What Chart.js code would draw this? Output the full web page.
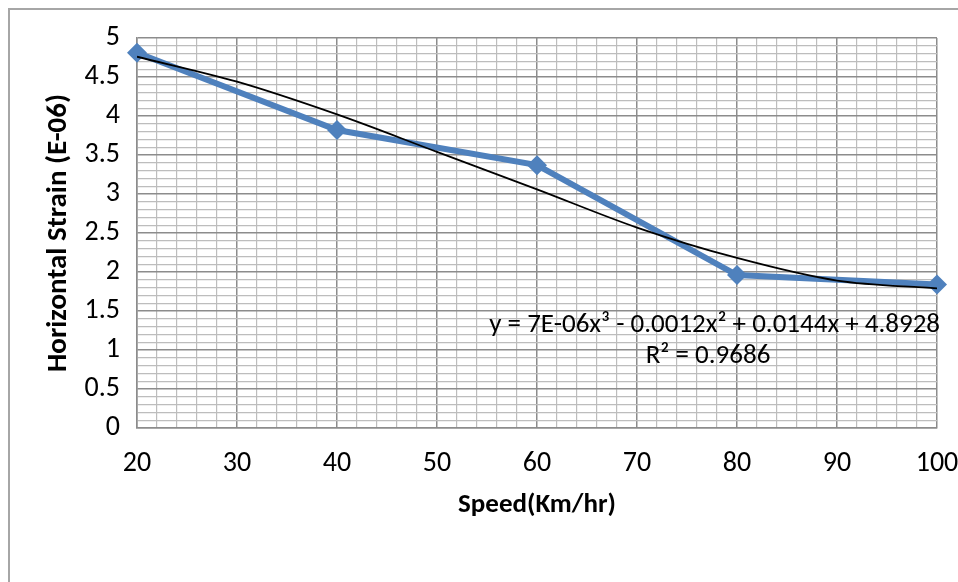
<!DOCTYPE html>
<html>
<head>
<meta charset="utf-8">
<script src="https://cdn.jsdelivr.net/npm/chart.js@4.4.0/dist/chart.umd.min.js"></script>
<style>
  html, body { margin: 0; padding: 0; background: #fff; }
  #wrap { width: 958px; height: 582px; position: relative; }
</style>
</head>
<body>
<div id="wrap"><canvas id="chart"></canvas></div>
<script>
// measured strain vs speed
const speeds = [20, 40, 60, 80, 100];
const strains = [4.81, 3.82, 3.37, 1.96, 1.84];

// cubic trend line
const trendSpeeds = [20, 30, 40, 50, 60, 70, 80, 90, 100];
const trendStrains = [4.76, 4.44, 4.02, 3.54, 3.06, 2.57, 2.18, 1.89, 1.79];

const yTicks = [0, 0.5, 1, 1.5, 2, 2.5, 3, 3.5, 4, 4.5, 5];
const xTicks = [20, 30, 40, 50, 60, 70, 80, 90, 100];

const equationText = 'y = 7E-06x³ - 0.0012x² + 0.0144x + 4.8928';
const rSquaredText = 'R² = 0.9686';

const FONT = "'Carlito', 'Open Sans', 'Noto Sans', sans-serif";
const MAJOR = '#8c8c8c';
const MINOR = '#bdbdbd';

const isMajorY = (v) => yTicks.some((t) => Math.abs(t - v) < 1e-6);
const isMajorX = (v) => xTicks.some((t) => Math.abs(t - v) < 1e-6);

// outer frame + trendline label
const extras = {
  id: 'extras',
  beforeDraw(chart) {
    const ctx = chart.ctx;
    ctx.save();
    ctx.strokeStyle = '#a6a6a6';
    ctx.lineWidth = 2;
    ctx.beginPath();
    ctx.moveTo(9, 582);
    ctx.lineTo(9, 9);
    ctx.lineTo(958, 9);
    ctx.stroke();
    ctx.restore();
  },
  afterDatasetsDraw(chart) {
    const ctx = chart.ctx;
    const x = chart.scales.x;
    const y = chart.scales.y;
    ctx.save();
    ctx.fillStyle = '#000';
    ctx.font = '27px ' + FONT;
    ctx.textBaseline = 'middle';
    ctx.textAlign = 'right';
    ctx.fillText(equationText, x.getPixelForValue(100) + 3, y.getPixelForValue(1.32));
    ctx.textAlign = 'center';
    ctx.fillText(rSquaredText, x.getPixelForValue(77.1), y.getPixelForValue(0.92));
    ctx.restore();
  }
};

new Chart(document.getElementById('chart'), {
  type: 'line',
  data: {
    datasets: [
      {
        label: 'Poly. trend',
        data: trendSpeeds.map((s, i) => ({ x: s, y: trendStrains[i] })),
        borderColor: '#000',
        borderWidth: 1.8,
        pointRadius: 0,
        cubicInterpolationMode: 'monotone',
        order: 1,
      },
      {
        label: 'Horizontal strain',
        data: speeds.map((s, i) => ({ x: s, y: strains[i] })),
        borderColor: '#4f81bd',
        backgroundColor: '#4f81bd',
        borderWidth: 6,
        pointStyle: 'rectRot',
        pointRadius: 10,
        pointBorderWidth: 0,
        tension: 0,
        clip: false,
        order: 2,
      },
    ],
  },
  options: {
    responsive: true,
    maintainAspectRatio: false,
    animation: false,
    events: [],
    layout: { padding: { top: 38, right: 21, left: 0, bottom: 0 } },
    plugins: { legend: { display: false }, tooltip: { enabled: false } },
    scales: {
      x: {
        type: 'linear',
        min: 20,
        max: 100,
        afterFit: (s) => { s.height = 154; s.paddingLeft = 0; s.paddingRight = 0; },
        border: { color: MAJOR, width: 1.5 },
        grid: {
          drawTicks: false,
          color: (c) => (isMajorX(c.tick.value) ? MAJOR : MINOR),
          lineWidth: (c) => (isMajorX(c.tick.value) ? 1.5 : 1.2),
        },
        ticks: {
          stepSize: 2,
          autoSkip: false,
          maxRotation: 0,
          padding: 19,
          color: '#000',
          font: { family: FONT, size: 28 },
          callback: (v) => (isMajorX(v) ? String(Math.round(v)) : ''),
        },
        title: {
          display: true,
          text: 'Speed(Km/hr)',
          color: '#000',
          font: { family: FONT, size: 27, weight: 'bold' },
          padding: { top: 0, bottom: 61 },
        },
      },
      y: {
        type: 'linear',
        min: 0,
        max: 5,
        afterFit: (s) => { s.width = 137; },
        border: { color: MAJOR, width: 1.5 },
        grid: {
          drawTicks: false,
          color: (c) => (isMajorY(c.tick.value) ? MAJOR : MINOR),
          lineWidth: (c) => (isMajorY(c.tick.value) ? 1.5 : 1.2),
        },
        ticks: {
          stepSize: 0.1,
          autoSkip: false,
          padding: 17,
          color: '#000',
          font: { family: FONT, size: 28 },
          callback: (v) => (isMajorY(v) ? String(Math.round(v * 10) / 10) : ''),
        },
        title: {
          display: true,
          text: 'Horizontal Strain (E-06)',
          color: '#000',
          font: { family: FONT, size: 29, weight: 'bold' },
          padding: { top: 41, bottom: 0 },
        },
      },
    },
  },
  plugins: [extras],
});
</script>
</body>
</html>
